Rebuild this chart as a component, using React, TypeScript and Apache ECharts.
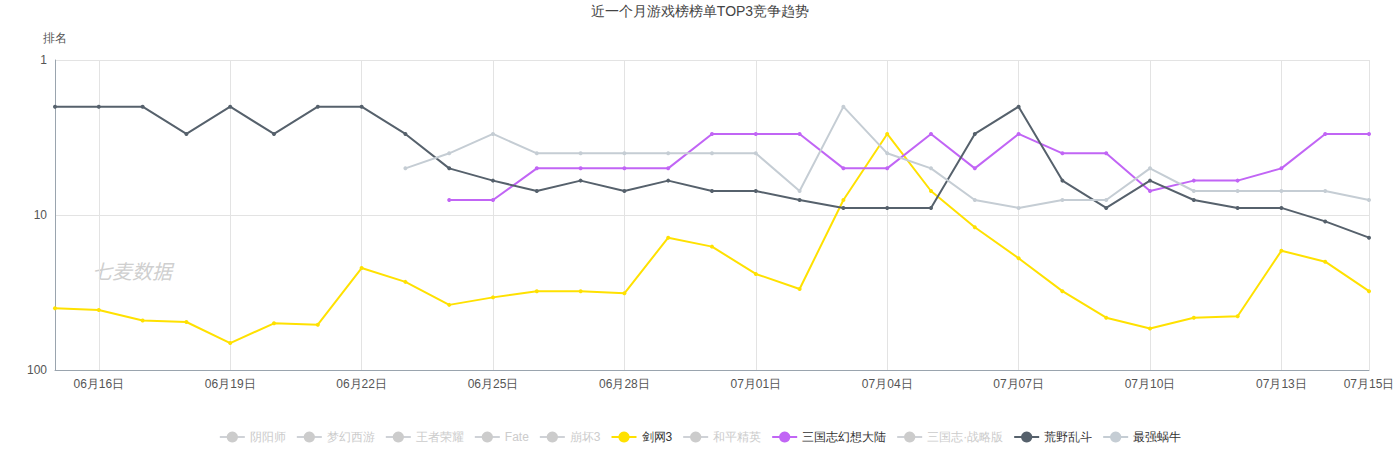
import React, { useEffect, useRef } from "react";
import * as echarts from "echarts";

const dates = [
  "06月15日","06月16日","06月17日","06月18日","06月19日","06月20日","06月21日","06月22日","06月23日","06月24日",
  "06月25日","06月26日","06月27日","06月28日","06月29日","06月30日","07月01日","07月02日","07月03日","07月04日",
  "07月05日","07月06日","07月07日","07月08日","07月09日","07月10日","07月11日","07月12日","07月13日","07月14日","07月15日",
];

const legendNames = ["阴阳师","梦幻西游","王者荣耀","Fate","崩坏3","剑网3","和平精英","三国志幻想大陆","三国志·战略版","荒野乱斗","最强蜗牛"];
const hiddenNames = ["阴阳师","梦幻西游","王者荣耀","Fate","崩坏3","和平精英","三国志·战略版"];

const jianwang3 = [40,41,48,49,67,50,51,22,27,38,34,31,31,32,14,16,24,30,8,3,7,12,19,31,46,54,46,45,17,20,31];
const sanguoHuanxiang = [null,null,null,null,null,null,null,null,null,8,8,5,5,5,5,3,3,3,5,5,3,5,3,4,4,7,6,6,5,3,3];
const huangyeLuandou = [2,2,2,3,2,3,2,2,3,5,6,7,6,7,6,7,7,8,9,9,9,3,2,6,9,6,8,9,9,11,14];
const zuiqiangWoniu = [null,null,null,null,null,null,null,null,5,4,3,4,4,4,4,4,4,7,2,4,5,8,9,8,8,5,7,7,7,7,8];

const colorMap: Record<string, string> = {
  "剑网3": "#ffe100",
  "三国志幻想大陆": "#c165f5",
  "荒野乱斗": "#56616c",
  "最强蜗牛": "#c5cdd4",
};
const dataMap: Record<string, (number | null)[]> = {
  "剑网3": jianwang3,
  "三国志幻想大陆": sanguoHuanxiang,
  "荒野乱斗": huangyeLuandou,
  "最强蜗牛": zuiqiangWoniu,
};

export default function App() {
  const ref = useRef<HTMLDivElement>(null);
  useEffect(() => {
    if (!ref.current) return;
    const chart = echarts.init(ref.current, undefined, { renderer: "svg" });
    const selected: Record<string, boolean> = {};
    hiddenNames.forEach((n) => (selected[n] = false));
    const labelInterval = (i: number) => i % 3 === 1 || i === dates.length - 1;
    chart.setOption({
      animation: false,
      title: {
        text: "近一个月游戏榜榜单TOP3竞争趋势",
        left: "center",
        top: 4,
        padding: 0,
        textStyle: { fontSize: 14, fontWeight: "normal", color: "#444" },
      },
      legend: {
        data: legendNames,
        selected,
        bottom: 22,
        left: "center",
        itemGap: 10,
        textStyle: { fontSize: 12, color: "#333" },
        inactiveColor: "#ccc",
      },
      grid: { left: 55, right: 31, top: 60, bottom: 100, containLabel: false },
      graphic: [
        {
          type: "text",
          left: 92,
          top: 260,
          style: { text: "七麦数据", fontSize: 20, fontStyle: "italic", fill: "#cfcfcf", fontFamily: "Noto Sans CJK SC" },
        },
      ],
      xAxis: {
        type: "category",
        boundaryGap: false,
        data: dates,
        axisLine: { lineStyle: { color: "#9aa4ae" } },
        axisTick: { show: false },
        axisLabel: { interval: labelInterval, color: "#555", fontSize: 12, margin: 8 },
        splitLine: { show: true, interval: labelInterval, lineStyle: { color: "#e3e3e3" } },
      },
      yAxis: {
        type: "log",
        logBase: 10,
        min: 1,
        max: 100,
        inverse: true,
        name: "排名",
        nameLocation: "start",
        nameGap: 16,
        nameTextStyle: { color: "#555", fontSize: 12 },
        axisLine: { show: true, lineStyle: { color: "#9aa4ae" } },
        axisTick: { show: false },
        axisLabel: { color: "#555", fontSize: 12 },
        splitLine: { lineStyle: { color: "#e3e3e3" } },
      },
      series: legendNames.map((name) => ({
        name,
        type: "line",
        data: dataMap[name] ?? [],
        symbol: "circle",
        symbolSize: 4,
        showSymbol: true,
        connectNulls: false,
        lineStyle: { width: 2, color: colorMap[name] ?? "#ccc" },
        itemStyle: { color: colorMap[name] ?? "#ccc" },
      })),
    });
    return () => chart.dispose();
  }, []);
  return (
    <div
      ref={ref}
      style={{ position: "absolute", left: 0, top: 0, width: 1400, height: 470 }}
    />
  );
}
